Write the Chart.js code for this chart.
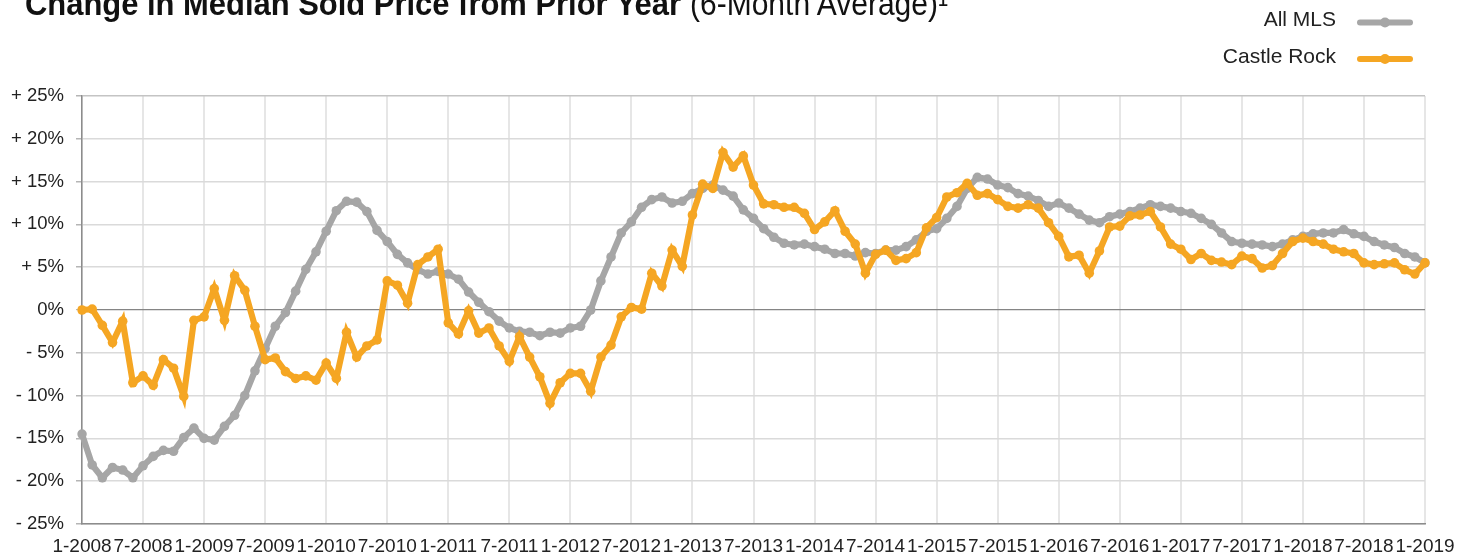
<!DOCTYPE html>
<html>
<head>
<meta charset="utf-8">
<script src="https://cdn.jsdelivr.net/npm/chart.js@4.4.1/dist/chart.umd.min.js"></script>
<style>
  html, body { margin: 0; padding: 0; background: #fff; overflow: hidden; }
  #wrap { position: relative; width: 1472px; height: 555px; }
  .ttl {
    position: absolute; top: -13px; white-space: nowrap; transform-origin: 0 0;
    font-family: "Liberation Sans", Arial, sans-serif;
    font-size: 33px; line-height: 33px; color: #111;
  }
  #ttlMain { left: 25px; font-weight: bold; }
  #ttlSub { left: 690px; font-weight: normal; }
</style>
</head>
<body>
<div id="wrap">
  <canvas id="chart" width="1472" height="555"></canvas>
  <span class="ttl" id="ttlMain" data-w="656">Change in Median Sold Price from Prior Year</span>
  <span class="ttl" id="ttlSub" data-w="258">(6-Month Average)¹</span>
</div>
<script>
// month labels 1-2008 ... 1-2019
const months = [];
for (let y = 2008; y <= 2019; y++) {
  for (let m = 1; m <= 12; m++) {
    if (y < 2019 || m === 1) months.push(m + '-' + y);
  }
}

// 6-month average change, %
const allMls = [
  -14.5, -18.1, -19.6, -18.4, -18.7, -19.6, -18.2, -17.1, -16.4, -16.5,
  -14.9, -13.8, -15.0, -15.2, -13.6, -12.3, -10.0, -7.1, -4.5, -1.9,
  -0.3, 2.2, 4.75, 6.8, 9.2, 11.6, 12.7, 12.6, 11.5, 9.3,
  8.0, 6.5, 5.5, 4.7, 4.2, 4.5, 4.2, 3.6, 2.1, 0.9,
  -0.2, -1.3, -2.1, -2.5, -2.6, -3.0, -2.6, -2.7, -2.1, -1.9,
  0.0, 3.4, 6.2, 9.0, 10.3, 12.0, 12.9, 13.2, 12.5, 12.7,
  13.6, 14.2, 14.6, 14.0, 13.3, 11.7, 10.7, 9.5, 8.5, 7.8,
  7.6, 7.7, 7.4, 7.1, 6.6, 6.6, 6.3, 6.7, 6.6, 7.0,
  7.0, 7.4, 8.2, 9.2, 9.5, 10.7, 12.1, 14.2, 15.5, 15.3,
  14.6, 14.3, 13.6, 13.3, 12.8, 12.1, 12.5, 11.9, 11.2, 10.5,
  10.2, 10.9, 11.2, 11.5, 11.9, 12.3, 12.1, 11.9, 11.5, 11.3,
  10.7, 10.0, 9.0, 8.0, 7.8, 7.7, 7.6, 7.4, 7.7, 8.2,
  8.6, 8.9, 9.0, 9.0, 9.4, 8.9, 8.6, 8.0, 7.6, 7.3,
  6.6, 6.2, 5.5
];
const castleRock = [
  0.0, 0.1, -1.8, -3.8, -1.3, -8.5, -7.7, -8.8, -5.8, -6.8,
  -10.1, -1.2, -0.8, 2.5, -1.2, 4.0, 2.3, -1.9, -5.8, -5.6,
  -7.2, -8.0, -7.7, -8.2, -6.2, -8.0, -2.6, -5.5, -4.2, -3.5,
  3.4, 2.9, 0.8, 5.3, 6.2, 7.1, -1.5, -2.8, -0.1, -2.7,
  -2.1, -4.2, -6.0, -3.1, -5.5, -7.8, -10.9, -8.5, -7.4, -7.4,
  -9.5, -5.5, -4.1, -0.8, 0.3, 0.1, 4.3, 2.8, 7.0, 5.1,
  11.1, 14.7, 14.2, 18.4, 16.7, 18.0, 14.6, 12.4, 12.3, 12.0,
  12.0, 11.3, 9.4, 10.3, 11.6, 9.2, 7.7, 4.3, 6.5, 7.0,
  5.8, 6.0, 6.7, 9.6, 10.8, 13.2, 13.7, 14.8, 13.4, 13.6,
  12.9, 12.1, 11.9, 12.3, 11.9, 10.2, 8.6, 6.2, 6.4, 4.3,
  6.9, 9.7, 9.8, 11.0, 11.1, 11.5, 9.7, 7.7, 7.1, 5.9,
  6.6, 5.8, 5.6, 5.3, 6.3, 6.0, 4.9, 5.2, 6.6, 8.0,
  8.4, 8.0, 7.7, 7.1, 6.8, 6.6, 5.5, 5.3, 5.4, 5.5,
  4.7, 4.2, 5.5
];

const GRAY = '#a6a6a6';
const ORANGE = '#f5a623';
const FONT = '"Liberation Sans", Arial, Helvetica, sans-serif';

// squeeze the title spans to the condensed width of the original
document.querySelectorAll('.ttl').forEach((el) => {
  const w = el.getBoundingClientRect().width;
  el.style.transform = 'scaleX(' + (el.dataset.w / w) + ')';
});

// legend drawn at the top right: text, then line sample
const sideLegend = {
  id: 'sideLegend',
  afterDraw(chart) {
    const ctx = chart.ctx;
    ctx.save();
    ctx.font = '21px ' + FONT;
    ctx.textAlign = 'right';
    ctx.textBaseline = 'middle';
    chart.data.datasets.forEach((ds, i) => {
      const y = 20.5 + i * 36.5;
      ctx.fillStyle = '#222';
      ctx.fillText(ds.label, 1336, y);
      ctx.strokeStyle = ds.borderColor;
      ctx.lineWidth = 6;
      ctx.lineCap = 'round';
      ctx.beginPath();
      ctx.moveTo(1360, y + 2);
      ctx.lineTo(1410, y + 2);
      ctx.stroke();
      ctx.fillStyle = ds.borderColor;
      ctx.beginPath();
      ctx.arc(1385, y + 2, 5, 0, Math.PI * 2);
      ctx.fill();
    });
    ctx.restore();
  }
};

function lineSet(label, data, color, order) {
  return {
    label: label,
    data: data,
    order: order,
    borderColor: color,
    backgroundColor: color,
    pointBackgroundColor: color,
    borderWidth: 6.2,
    pointRadius: 4.8,
    pointBorderWidth: 0,
    pointHoverRadius: 4.8,
    tension: 0,
    fill: false
  };
}

new Chart(document.getElementById('chart'), {
  type: 'line',
  data: {
    labels: months,
    datasets: [
      lineSet('All MLS', allMls, GRAY, 2),
      lineSet('Castle Rock', castleRock, ORANGE, 1)
    ]
  },
  options: {
    responsive: false,
    animation: false,
    layout: { padding: { top: 96, right: 47, bottom: 0, left: 0 } },
    plugins: { legend: { display: false }, tooltip: { enabled: false } },
    scales: {
      x: {
        offset: false,
        border: { color: '#8c8c8c', width: 1.5 },
        grid: {
          drawTicks: false,
          lineWidth: 2,
          color: (c) => (c.index === months.length - 1 ? '#a8a8a8' : '#e6e6e6')
        },
        ticks: {
          autoSkip: false,
          maxRotation: 0,
          padding: 11,
          color: '#222',
          font: { family: FONT, size: 19 },
          callback: (v, i) => (i % 6 === 0 ? months[i] : null)
        },
        afterFit: (s) => { s.height = 31; }
      },
      y: {
        min: -25,
        max: 25,
        border: { color: '#8c8c8c', width: 1.5 },
        grid: {
          tickLength: 6,
          tickColor: '#b5b5b5',
          lineWidth: (c) => (c.tick && c.tick.value === 0 ? 1.2 : 1.5),
          color: (c) => {
            if (!c.tick) return '#dadada';
            if (c.tick.value === 0) return '#858585';
            if (c.tick.value === 25) return '#c4c4c4';
            return '#dadada';
          }
        },
        ticks: {
          stepSize: 5,
          padding: 12,
          color: '#222',
          font: { family: FONT, size: 18.5 },
          callback: (v) => (v > 0 ? '+ ' + v + '%' : v < 0 ? '- ' + Math.abs(v) + '%' : '0%')
        },
        afterFit: (s) => { s.width = 82; }
      }
    }
  },
  plugins: [sideLegend]
});
</script>
</body>
</html>
